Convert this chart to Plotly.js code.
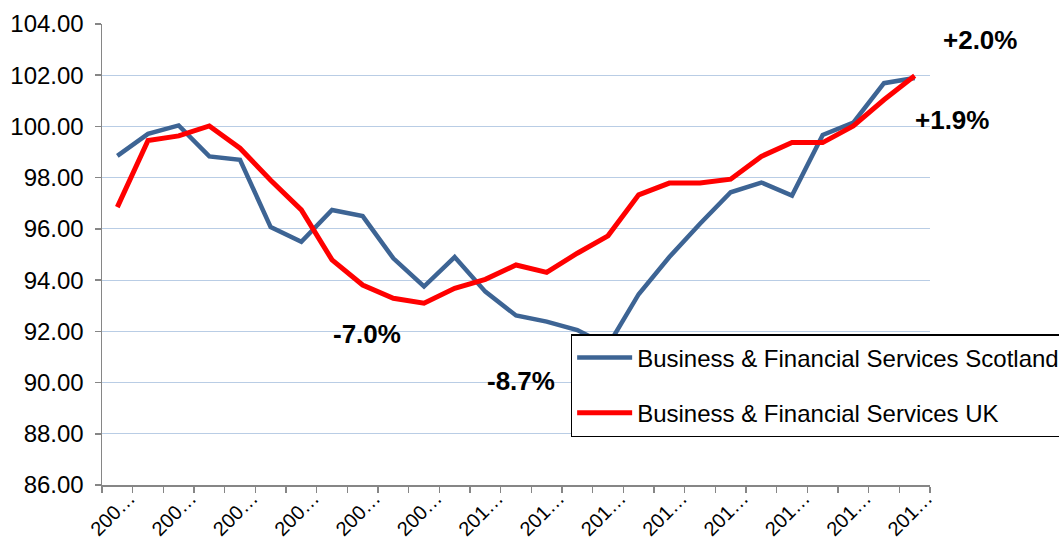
<!DOCTYPE html>
<html>
<head>
<meta charset="utf-8">
<script src="https://cdn.plot.ly/plotly-3.0.1.min.js"></script>
<style>html,body{margin:0;padding:0;background:#fff;}#chart{width:1059px;height:540px;}</style>
</head>
<body>
<div id="chart"></div>
<script>
const quarters = ["2007 Q1","2007 Q2","2007 Q3","2007 Q4","2008 Q1","2008 Q2","2008 Q3","2008 Q4","2009 Q1","2009 Q2","2009 Q3","2009 Q4","2010 Q1","2010 Q2","2010 Q3","2010 Q4","2011 Q1","2011 Q2","2011 Q3","2011 Q4","2012 Q1","2012 Q2","2012 Q3","2012 Q4","2013 Q1","2013 Q2","2013 Q3"];
const tickLabels = ["200…","","200…","","200…","","200…","","200…","","200…","","201…","","201…","","201…","","201…","","201…","","201…","","201…","","201…"];
const scotland = [98.85, 99.71, 100.04, 98.83, 98.70, 96.07, 95.50, 96.74, 96.50, 94.85, 93.75, 94.90, 93.55, 92.62, 92.38, 92.05, 91.44, 93.45, 94.90, 96.20, 97.43, 97.81, 97.30, 99.67, 100.15, 101.69, 101.89];
const uk = [96.85, 99.45, 99.63, 100.02, 99.15, 97.90, 96.74, 94.79, 93.81, 93.29, 93.10, 93.68, 94.03, 94.59, 94.30, 95.05, 95.73, 97.33, 97.79, 97.79, 97.94, 98.83, 99.37, 99.37, 100.02, 101.04, 101.98];
const seriesNames = ["Business & Financial Services Scotland", "Business & Financial Services UK"];
const notes = [
  {text: "+2.0%", x: 1.060, y: 0.965},
  {text: "+1.9%", x: 1.027, y: 0.792},
  {text: "-7.0%", x: 0.320, y: 0.327},
  {text: "-8.7%", x: 0.506, y: 0.226}
];

const font = "Liberation Sans, Arial, sans-serif";
const traces = [
  {x: quarters, y: scotland, type: "scatter", mode: "lines", name: seriesNames[0], legendgroup: "a",
   line: {color: "#3D6494", width: 4.5}},
  {x: quarters, y: uk, type: "scatter", mode: "lines", name: seriesNames[1], legendgroup: "b",
   line: {color: "#FF0000", width: 5}}
];
const layout = {
  width: 1059, height: 540,
  margin: {l: 102, r: 129, t: 24, b: 55, autoexpand: false},
  paper_bgcolor: "#fff", plot_bgcolor: "#fff",
  font: {family: font, color: "#000"},
  showlegend: true,
  legend: {x: 0.566, y: 0.3275, xanchor: "left", yanchor: "top",
    bordercolor: "#000", borderwidth: 1.5, bgcolor: "#fff",
    font: {size: 24, family: font, color: "#000"}, itemwidth: 55,
    traceorder: "grouped", tracegroupgap: 21},
  xaxis: {type: "category", categoryorder: "array", categoryarray: quarters,
    range: [-0.5, quarters.length - 0.5], tickmode: "array", tickvals: quarters, ticktext: tickLabels,
    tickson: "boundaries", ticks: "outside", ticklen: 6, tickcolor: "#868686", tickwidth: 1.5,
    tickangle: -45, tickfont: {size: 20, family: font, color: "#000"}, ticklabelstandoff: -8, ticklabelshift: 12,
    showline: true, linecolor: "#868686", linewidth: 1.5, showgrid: false, zeroline: false},
  yaxis: {range: [86, 104], dtick: 2, tick0: 86, tickformat: ".2f",
    ticks: "outside", ticklen: 6, tickcolor: "#868686", tickwidth: 1.5,
    tickfont: {size: 24, family: font, color: "#000"}, ticklabelstandoff: 6,
    showline: true, linecolor: "#868686", linewidth: 1.5,
    showgrid: true, gridcolor: "#B9CDE5", gridwidth: 1.2, zeroline: false},
  annotations: notes.map(n => ({text: "<b>" + n.text + "</b>", x: n.x, y: n.y, xref: "paper", yref: "paper",
    showarrow: false, xanchor: "center", yanchor: "middle", font: {size: 26, family: font, color: "#000"}}))
};
Plotly.newPlot("chart", traces, layout, {displayModeBar: false, staticPlot: true});
</script>
</body>
</html>
